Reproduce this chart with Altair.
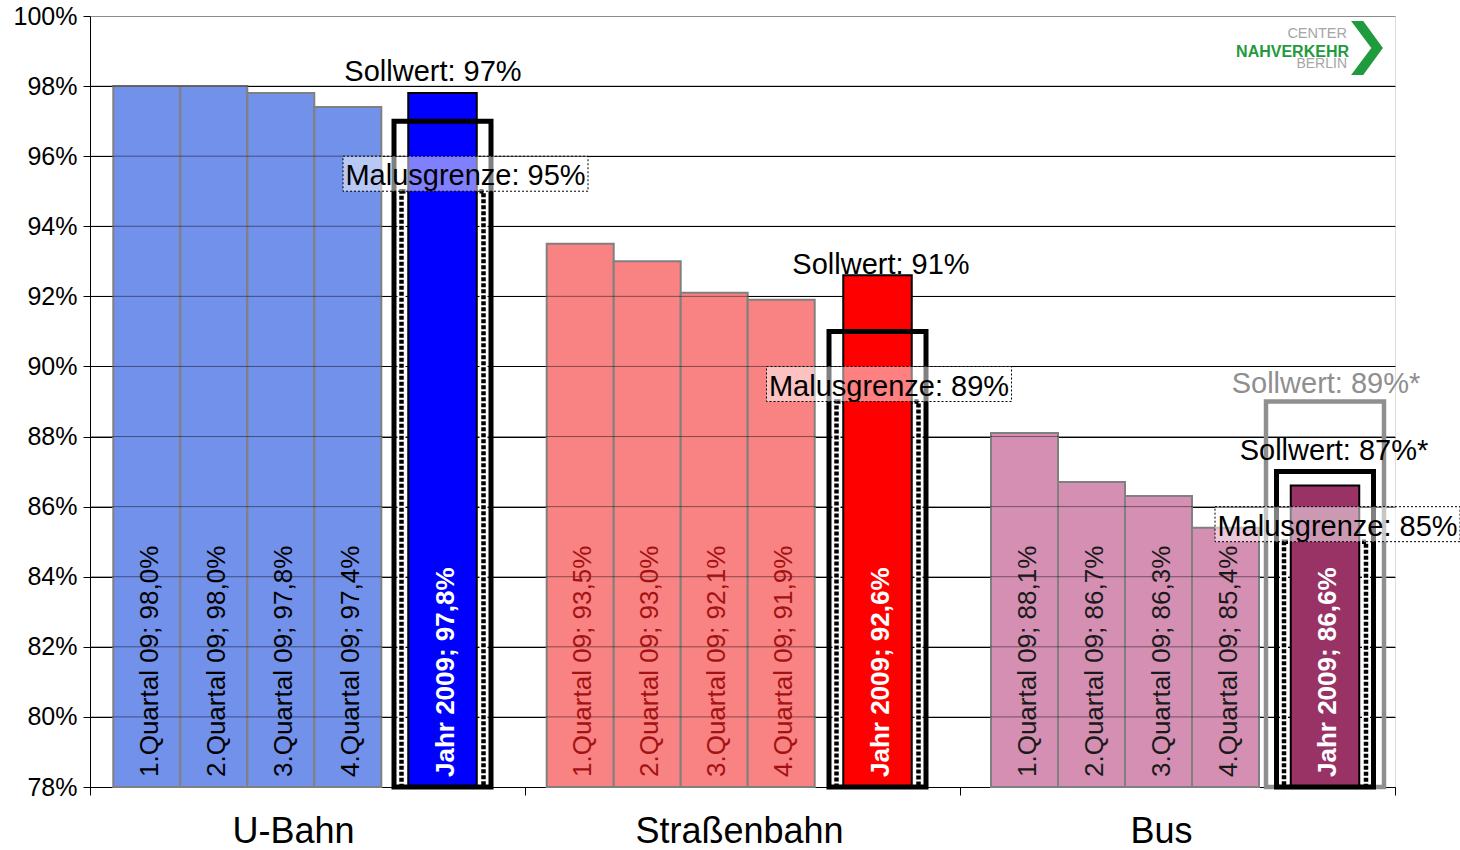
import altair as alt
import pandas as pd

# ---- data -------------------------------------------------------------
groups = ["U-Bahn", "Straßenbahn", "Bus"]
quarter_names = ["1.Quartal 09", "2.Quartal 09", "3.Quartal 09", "4.Quartal 09"]
ubahn_quarters = [98.0, 98.0, 97.8, 97.4]
tram_quarters = [93.5, 93.0, 92.1, 91.9]
bus_quarters = [88.1, 86.7, 86.3, 85.4]
year_values = [97.8, 92.6, 86.6]
sollwert = [97, 91, 87]
malusgrenze = [95, 89, 85]
bus_sollwert_alt = 89          # second target shown for the bus network

# ---- styles -----------------------------------------------------------
quarter_fill = ["#7191ea", "#f98282", "#d58fb3"]
quarter_text = ["#000000", "#a31212", "#1a1a1a"]
year_fill = ["#0000ff", "#ff0000", "#993366"]
FONT = "Liberation Sans"

# ---- layout (pixels inside one category block) ------------------------
W, H = 1305, 771
Y_MIN, Y_MAX = 78, 100
GROUP_PX = W / 3
PX_PER_PCT = H / (Y_MAX - Y_MIN)
Q_START, Q_W = 22.5, 67.0
q_nudge = [0.8, -0.8, 8.5]
YEAR_C, YEAR_W = 352.5, 68.5
year_nudge = [0.0, 0.0, 12.5]
SOLL_W, SOLL_ALT_W, MALUS_W = 97, 118, 82
LABEL_W = 245
malus_label_dx = [23, 11.5, 12.5]
soll_label_dx = [-9.5, 3.5, 9]
soll_label_rise = [40.5, 57.7, 11.6]
ALT_LABEL_DX, ALT_LABEL_RISE = 1, 8.3
category_dx = [-14, -3, -16]


def gx(g, px):
    return g + px / GROUP_PX


def de(v):
    return f"{v:.1f}".replace(".", ",") + "%"


quarter_series = [ubahn_quarters, tram_quarters, bus_quarters]

q_rows = []
for g, vals in enumerate(quarter_series):
    for i, v in enumerate(vals):
        x0 = gx(g, Q_START + q_nudge[g] + i * Q_W)
        x1 = gx(g, Q_START + q_nudge[g] + (i + 1) * Q_W)
        q_rows.append(dict(x0=x0, x1=x1, xc=(x0 + x1) / 2, base=Y_MIN, v=v,
                           fill=quarter_fill[g], tcol=quarter_text[g],
                           label=f"{quarter_names[i]}; {de(v)}"))
quarters_df = pd.DataFrame(q_rows)

y_rows, s_rows, m_rows = [], [], []
for g in range(3):
    c = YEAR_C + year_nudge[g]
    y_rows.append(dict(x0=gx(g, c - YEAR_W / 2), x1=gx(g, c + YEAR_W / 2), xc=gx(g, c),
                       base=Y_MIN, v=year_values[g], fill=year_fill[g],
                       label=f"Jahr 2009; {de(year_values[g])}"))
    s_rows.append(dict(x0=gx(g, c - SOLL_W / 2), x1=gx(g, c + SOLL_W / 2), base=Y_MIN,
                       v=sollwert[g], lx=gx(g, c + soll_label_dx[g]),
                       ly=sollwert[g] + soll_label_rise[g] / PX_PER_PCT,
                       label=f"Sollwert: {sollwert[g]}%" + ("*" if g == 2 else "")))
    m_rows.append(dict(x0=gx(g, c - MALUS_W / 2), x1=gx(g, c + MALUS_W / 2),
                       base=Y_MIN - 0.3, v=malusgrenze[g],
                       lx0=gx(g, c + malus_label_dx[g] - LABEL_W / 2),
                       lx1=gx(g, c + malus_label_dx[g] + LABEL_W / 2),
                       lx=gx(g, c + malus_label_dx[g]),
                       top=malusgrenze[g] + 35 / PX_PER_PCT,
                       ly=malusgrenze[g] + 6 / PX_PER_PCT,
                       label=f"Malusgrenze: {malusgrenze[g]}%"))
year_df = pd.DataFrame(y_rows)
soll_df = pd.DataFrame(s_rows)
malus_df = pd.DataFrame(m_rows)

c_bus = YEAR_C + year_nudge[2]
soll_alt_df = pd.DataFrame([dict(x0=gx(2, c_bus - SOLL_ALT_W / 2), x1=gx(2, c_bus + SOLL_ALT_W / 2),
                                 base=Y_MIN, v=bus_sollwert_alt,
                                 lx=gx(2, c_bus + ALT_LABEL_DX),
                                 ly=bus_sollwert_alt + ALT_LABEL_RISE / PX_PER_PCT,
                                 label=f"Sollwert: {bus_sollwert_alt}%*")])

cat_df = pd.DataFrame(dict(x=[gx(g, GROUP_PX / 2 + category_dx[g]) for g in range(3)],
                           y=[Y_MIN] * 3, label=groups))
grid_df = pd.DataFrame(dict(y=list(range(Y_MIN + 2, Y_MAX, 2)), x0=0, x1=3))

# ---- scales & axes ----------------------------------------------------
xs = alt.Scale(domain=[0, 3], nice=False, zero=False)
ys = alt.Scale(domain=[Y_MIN, Y_MAX], nice=False, zero=False)
x_axis = alt.Axis(values=[0, 1, 2, 3], labels=False, title=None, grid=False,
                  domainColor="black", tickColor="black", tickSize=8)
y_axis = alt.Axis(values=list(range(Y_MIN, Y_MAX + 1, 2)), labelExpr="datum.value + '%'",
                  title=None, grid=True,
                  gridColor={"condition": {"test": "datum.value >= 100", "value": "#8c8c8c"},
                             "value": "black"},
                  gridWidth=1, domainColor="black", tickColor="black", tickSize=7,
                  labelFontSize=25, labelFont=FONT, labelColor="black", labelPadding=6)


def X(f):
    return alt.X(f"{f}:Q", scale=xs, axis=x_axis)


def Y(f):
    return alt.Y(f"{f}:Q", scale=ys, axis=y_axis)


def rect_enc(df, **mark):
    return alt.Chart(df).mark_rect(**mark).encode(
        x=X("x0"), x2="x1", y=Y("base"), y2="v")


quarter_bars = alt.Chart(quarters_df).mark_rect(stroke="#808080", strokeWidth=2).encode(
    x=X("x0"), x2="x1", y=Y("base"), y2="v", fill=alt.Fill("fill:N", scale=None))

grid_overlay = alt.Chart(grid_df).mark_rule(color="black", opacity=0.45, strokeWidth=1).encode(
    x=X("x0"), x2="x1", y=Y("y"))

quarter_labels = alt.Chart(quarters_df).mark_text(
    angle=270, align="left", baseline="middle", dx=10, dy=3, fontSize=26, font=FONT
).encode(x=X("xc"), y=Y("base"), text="label:N", color=alt.Color("tcol:N", scale=None))

soll_alt_box = rect_enc(soll_alt_df, fillOpacity=0, stroke="#8f8f8f", strokeWidth=4.5)

malus_white = rect_enc(malus_df, fillOpacity=0, stroke="white", strokeWidth=8, clip=True)
malus_dots = rect_enc(malus_df, fillOpacity=0, stroke="black", strokeWidth=4.5,
                      strokeDash=[4, 2], clip=True)

year_bars = alt.Chart(year_df).mark_rect(stroke="black", strokeWidth=2).encode(
    x=X("x0"), x2="x1", y=Y("base"), y2="v", fill=alt.Fill("fill:N", scale=None))

year_labels = alt.Chart(year_df).mark_text(
    angle=270, align="left", baseline="middle", dx=10, dy=3, fontSize=26,
    fontWeight="bold", font=FONT, color="white"
).encode(x=X("xc"), y=Y("base"), text="label:N")

soll_boxes = rect_enc(soll_df, fillOpacity=0, stroke="black", strokeWidth=5)

soll_labels = alt.Chart(soll_df).mark_text(
    align="center", baseline="alphabetic", fontSize=29, font=FONT, color="black"
).encode(x=X("lx"), y=Y("ly"), text="label:N")

soll_alt_label = alt.Chart(soll_alt_df).mark_text(
    align="center", baseline="alphabetic", fontSize=29, font=FONT, color="#8f8f8f"
).encode(x=X("lx"), y=Y("ly"), text="label:N")

malus_label_box = alt.Chart(malus_df).mark_rect(
    fill="white", fillOpacity=0.5, stroke="black", strokeWidth=1, strokeDash=[2, 2]
).encode(x=X("lx0"), x2="lx1", y=Y("v"), y2="top")

malus_label_text = alt.Chart(malus_df).mark_text(
    align="center", baseline="alphabetic", fontSize=29, font=FONT, color="black"
).encode(x=X("lx"), y=Y("ly"), text="label:N")

category_labels = alt.Chart(cat_df).mark_text(
    align="center", baseline="alphabetic", dy=56, fontSize=36, font=FONT, color="black"
).encode(x=X("x"), y=Y("y"), text="label:N")

# ---- logo -------------------------------------------------------------
logo_center = alt.Chart(pd.DataFrame(dict(t=["CENTER"]))).mark_text(
    align="right", baseline="alphabetic", fontSize=14.5, font=FONT, color="#a6a6a6"
).encode(x=alt.value(1257), y=alt.value(22), text="t:N")
logo_main = alt.Chart(pd.DataFrame(dict(t=["NAHVERKEHR"]))).mark_text(
    align="right", baseline="alphabetic", fontSize=16, fontWeight="bold", font=FONT,
    color="#1f9a3c"
).encode(x=alt.value(1259), y=alt.value(41), text="t:N")
logo_city = alt.Chart(pd.DataFrame(dict(t=["BERLIN"]))).mark_text(
    align="right", baseline="alphabetic", fontSize=14, font=FONT, color="#a6a6a6"
).encode(x=alt.value(1257), y=alt.value(52), text="t:N")
logo_arrow = alt.Chart(pd.DataFrame(dict(t=["arrow"]))).mark_point(
    shape="M-0.59,-1 L-0.14,-1 L0.59,0 L-0.14,1 L-0.59,1 L0.16,0 Z",
    filled=True, fill="#1f9a3c", strokeWidth=0, size=2916, opacity=1
).encode(x=alt.value(1277), y=alt.value(32))

chart = alt.layer(
    quarter_bars, grid_overlay, quarter_labels, soll_alt_box, malus_white, malus_dots,
    year_bars, year_labels, soll_boxes, soll_labels, soll_alt_label,
    malus_label_box, malus_label_text, category_labels,
    logo_center, logo_main, logo_city, logo_arrow
).properties(
    width=W, height=H,
    autosize=alt.AutoSizeParams(type="none"),
    padding={"left": 90, "top": 16, "right": 65, "bottom": 63},
).configure_view(
    stroke="#8c8c8c", strokeWidth=2
).configure(background="white")

chart.save("out.html", embed_options={"renderer": "svg", "actions": False})
